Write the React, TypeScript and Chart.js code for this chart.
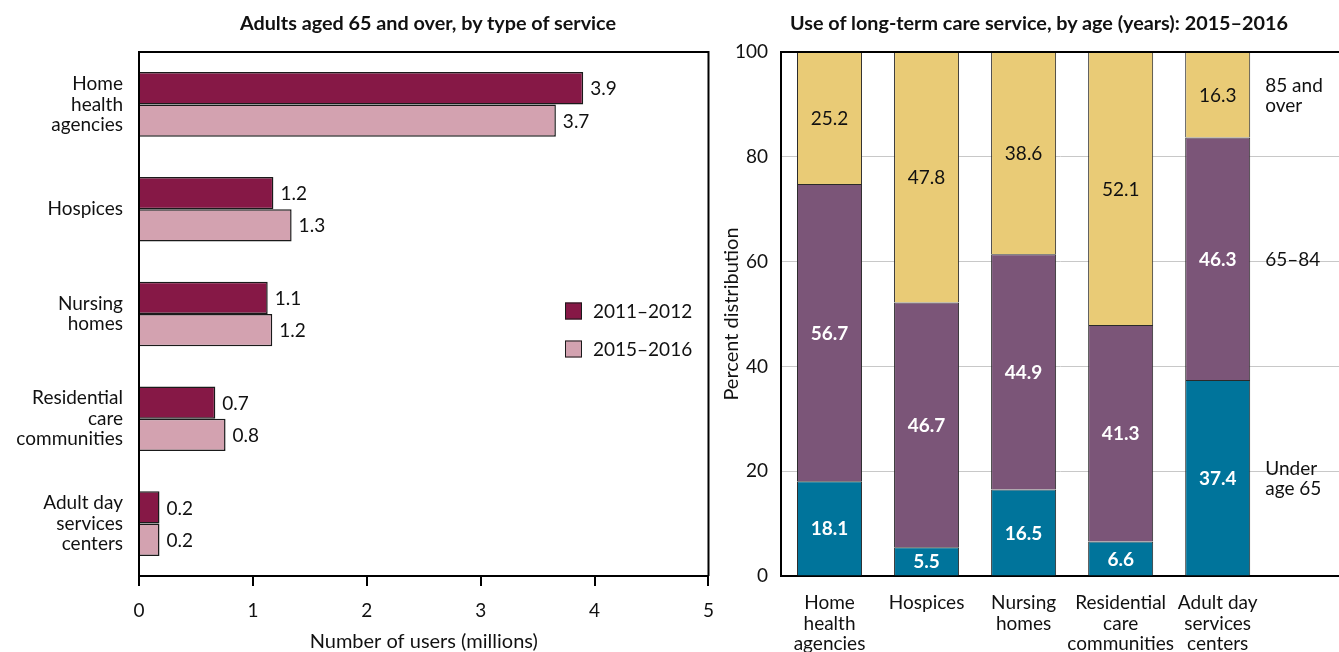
import { useEffect, useRef } from "react";
import Chart from "chart.js/auto";

const FONT = "Lato, 'Open Sans', sans-serif";
const INK = "#111111";
const FS = 19;

// left chart: users by type of service
const serviceLabels = [
  ["Home", "health", "agencies"],
  ["Hospices"],
  ["Nursing", "homes"],
  ["Residential", "care", "communities"],
  ["Adult day", "services", "centers"],
];
const periods = ["2011–2012", "2015–2016"];
const users2011 = [3.9, 1.18, 1.13, 0.67, 0.18];
const users2015 = [3.66, 1.34, 1.17, 0.76, 0.18];
const userTicks = [0, 1, 2, 3, 4, 5];

// right chart: percent distribution by age
const facilityLabels = [
  ["Home", "health", "agencies"],
  ["Hospices"],
  ["Nursing", "homes"],
  ["Residential", "care", "communities"],
  ["Adult day", "services", "centers"],
];
const ageGroups = ["Under age 65", "65–84", "85 and over"];
const ageGroupLines = [["Under", "age 65"], ["65–84"], ["85 and", "over"]];
const underAge65 = [18.1, 5.5, 16.5, 6.6, 37.4];
const age65to84 = [56.7, 46.7, 44.9, 41.3, 46.3];
const age85plus = [25.2, 47.8, 38.6, 52.1, 16.3];
const percentTicks = [0, 20, 40, 60, 80, 100];

const tickFont = { family: FONT, size: FS, lineHeight: 1.08 };
const axisTitleFont = { family: FONT, size: 20, lineHeight: 1.08 };

const framePlugin = {
  id: "frame",
  afterDatasetsDraw(chart: any, _args: any, opts: any) {
    const { ctx, chartArea } = chart;
    const { left, top, right, bottom } = chartArea;
    ctx.save();
    ctx.strokeStyle = "#000";
    ctx.lineWidth = 2;
    ctx.beginPath();
    if (opts.top) {
      ctx.moveTo(left - 1, top);
      ctx.lineTo(right + 1, top);
    }
    if (opts.right) {
      ctx.moveTo(right, top);
      ctx.lineTo(right, bottom);
    }
    if (opts.left) {
      ctx.moveTo(left, top);
      ctx.lineTo(left, bottom);
    }
    ctx.stroke();
    ctx.restore();
  },
};

// value printed just past the end of each horizontal bar
const endLabelsPlugin = {
  id: "endLabels",
  afterDatasetsDraw(chart: any) {
    const { ctx } = chart;
    ctx.save();
    ctx.font = `${FS}px ${FONT}`;
    ctx.fillStyle = INK;
    ctx.textAlign = "left";
    ctx.textBaseline = "middle";
    chart.data.datasets.forEach((ds: any, di: number) => {
      chart.getDatasetMeta(di).data.forEach((bar: any, i: number) => {
        const v = ds.data[i] as number;
        ctx.fillText(v.toFixed(1), bar.x + 7, bar.y + 1);
      });
    });
    ctx.restore();
  },
};

// legend boxes placed inside the plot area
const boxLegendPlugin = {
  id: "boxLegend",
  afterDraw(chart: any, _args: any, opts: any) {
    const { ctx, chartArea } = chart;
    const x = chartArea.left + opts.dx;
    let y = chartArea.top + opts.dy;
    ctx.save();
    ctx.font = `${FS}px ${FONT}`;
    ctx.textAlign = "left";
    ctx.textBaseline = "middle";
    chart.data.datasets.forEach((ds: any) => {
      ctx.fillStyle = ds.backgroundColor;
      ctx.fillRect(x, y - 8.5, 17, 17);
      ctx.strokeStyle = "#1a1a1a";
      ctx.lineWidth = 1;
      ctx.strokeRect(x + 0.5, y - 8, 16, 16);
      ctx.fillStyle = INK;
      ctx.fillText(ds.label, x + 28, y + 1);
      y += opts.gap;
    });
    ctx.restore();
  },
};

// values inside each stacked segment + series names beside the last column
const segmentLabelsPlugin = {
  id: "segmentLabels",
  afterDatasetsDraw(chart: any, _args: any, opts: any) {
    const { ctx } = chart;
    ctx.save();
    ctx.textBaseline = "middle";
    chart.data.datasets.forEach((ds: any, di: number) => {
      const bars = chart.getDatasetMeta(di).data;
      const light = di < 2;
      ctx.font = `${light ? "bold " : ""}${FS}px ${FONT}`;
      ctx.fillStyle = light ? "#ffffff" : INK;
      ctx.textAlign = "center";
      bars.forEach((bar: any, i: number) => {
        const { x, y, base } = bar.getProps(["x", "y", "base"], true);
        ctx.fillText(ds.data[i].y.toFixed(1), x, (y + base) / 2 + 1);
      });
      const last = bars[bars.length - 1];
      const { x, y, base, width } = last.getProps(["x", "y", "base", "width"], true);
      const lines: string[] = opts.names[di];
      const mid = (y + base) / 2;
      ctx.font = `${FS}px ${FONT}`;
      ctx.fillStyle = INK;
      ctx.textAlign = "left";
      lines.forEach((line, li) => {
        ctx.fillText(line, x + width / 2 + 15, mid + (li - (lines.length - 1) / 2) * 20 + 1);
      });
    });
    ctx.restore();
  },
};

function ServiceChart() {
  const canvasRef = useRef<HTMLCanvasElement>(null);
  const chartRef = useRef<Chart | null>(null);

  useEffect(() => {
    if (!canvasRef.current) return;
    if (chartRef.current) chartRef.current.destroy();

    chartRef.current = new Chart(canvasRef.current, {
      type: "bar",
      data: {
        labels: serviceLabels,
        datasets: [
          {
            label: periods[0],
            data: users2011,
            backgroundColor: "#861846",
            borderColor: "#1a1a1a",
            borderWidth: 1.5,
          },
          {
            label: periods[1],
            data: users2015,
            backgroundColor: "#d3a2b0",
            borderColor: "#1a1a1a",
            borderWidth: 1.5,
          },
        ],
      },
      options: {
        indexAxis: "y",
        responsive: true,
        maintainAspectRatio: false,
        animation: false,
        layout: { padding: { top: 52, right: 0, left: 0, bottom: 0 } },
        datasets: { bar: { categoryPercentage: 0.616, barPercentage: 1 } },
        plugins: {
          legend: { display: false },
          tooltip: { enabled: false },
          frame: { top: true, right: true, left: true },
          boxLegend: { dx: 426, dy: 259, gap: 38 },
        } as any,
        scales: {
          x: {
            min: userTicks[0],
            max: userTicks[userTicks.length - 1],
            ticks: {
              stepSize: 1,
              font: tickFont,
              color: INK,
              padding: 15,
            },
            grid: {
              drawOnChartArea: false,
              drawTicks: true,
              tickLength: 10,
              color: "#000",
              lineWidth: 2,
            },
            border: { display: true, color: "#000", width: 2 },
            title: {
              display: true,
              text: "Number of users (millions)",
              font: axisTitleFont,
              color: INK,
              padding: { top: 0, bottom: 0 },
            },
            afterFit: (s: any) => {
              s.height = 76;
            },
          },
          y: {
            ticks: {
              font: tickFont,
              color: INK,
              padding: 16,
            },
            grid: { display: false, drawTicks: false },
            border: { display: true, color: "#000", width: 2 },
            afterFit: (s: any) => {
              s.width = 139;
            },
          },
        },
      },
      plugins: [framePlugin, endLabelsPlugin, boxLegendPlugin],
    });

    return () => {
      if (chartRef.current) {
        chartRef.current.destroy();
        chartRef.current = null;
      }
    };
  }, []);

  return <canvas ref={canvasRef} />;
}

function AgeChart() {
  const canvasRef = useRef<HTMLCanvasElement>(null);
  const chartRef = useRef<Chart | null>(null);

  useEffect(() => {
    if (!canvasRef.current) return;
    if (chartRef.current) chartRef.current.destroy();

    const series = [underAge65, age65to84, age85plus];
    const colors = ["#00749b", "#7b5578", "#e9cb76"];

    chartRef.current = new Chart(canvasRef.current, {
      type: "bar",
      data: {
        datasets: series.map((vals, si) => ({
          label: ageGroups[si],
          data: vals.map((v, i) => ({ x: i, y: v })),
          backgroundColor: colors[si],
          borderColor: "#2a2a2a",
          borderWidth: 1,
        })),
      },
      options: {
        responsive: true,
        maintainAspectRatio: false,
        animation: false,
        layout: { padding: { top: 52, right: 0, left: 0, bottom: 0 } },
        datasets: { bar: { categoryPercentage: 0.67, barPercentage: 1 } },
        plugins: {
          legend: { display: false },
          tooltip: { enabled: false },
          frame: { top: true },
          segmentLabels: { names: ageGroupLines },
        } as any,
        scales: {
          x: {
            type: "linear",
            stacked: true,
            offset: false,
            min: -0.5,
            max: 5.25,
            afterBuildTicks: (s: any) => {
              s.ticks = facilityLabels.map((_, i) => ({ value: i }));
            },
            ticks: {
              autoSkip: false,
              maxRotation: 0,
              minRotation: 0,
              font: tickFont,
              color: INK,
              padding: 17,
              callback: (v: any) => facilityLabels[v] ?? "",
            },
            grid: { display: false, drawTicks: false, offset: false },
            border: { display: true, color: "#000", width: 2 },
            afterFit: (s: any) => {
              s.height = 76;
            },
          },
          y: {
            stacked: true,
            min: percentTicks[0],
            max: percentTicks[percentTicks.length - 1],
            ticks: {
              stepSize: 20,
              font: tickFont,
              color: INK,
              padding: 13,
            },
            grid: {
              drawTicks: false,
              color: (c: any) => (c.tick.value === 100 ? "#000" : "#c8c8c8"),
              lineWidth: (c: any) => (c.tick.value === 100 ? 2 : 1),
            },
            border: { display: true, color: "#000", width: 2 },
            title: {
              display: true,
              text: "Percent distribution",
              font: axisTitleFont,
              color: INK,
              padding: { top: 6, bottom: 0 },
            },
            afterFit: (s: any) => {
              s.width = 66;
            },
          },
        },
      },
      plugins: [framePlugin, segmentLabelsPlugin],
    });

    return () => {
      if (chartRef.current) {
        chartRef.current.destroy();
        chartRef.current = null;
      }
    };
  }, []);

  return <canvas ref={canvasRef} />;
}

const titleStyle: React.CSSProperties = {
  position: "absolute",
  top: 11,
  width: 700,
  textAlign: "center",
  fontFamily: FONT,
  fontWeight: 700,
  fontSize: 19.8,
  lineHeight: "22px",
  color: INK,
  whiteSpace: "nowrap",
};

export default function App() {
  return (
    <div
      style={{
        position: "absolute",
        left: 0,
        top: 0,
        width: 1339,
        height: 652,
        overflow: "hidden",
        background: "#fff",
      }}
    >
      <div style={{ position: "absolute", left: 0, top: 0, width: 729, height: 652 }}>
        <ServiceChart />
      </div>
      <div style={{ position: "absolute", left: 715, top: 0, width: 624, height: 652 }}>
        <AgeChart />
      </div>
      <div style={{ ...titleStyle, left: 428 - 350 }}>
        Adults aged 65 and over, by type of service
      </div>
      <div style={{ ...titleStyle, left: 1039 - 350 }}>
        Use of long-term care service, by age (years): 2015–2016
      </div>
    </div>
  );
}
